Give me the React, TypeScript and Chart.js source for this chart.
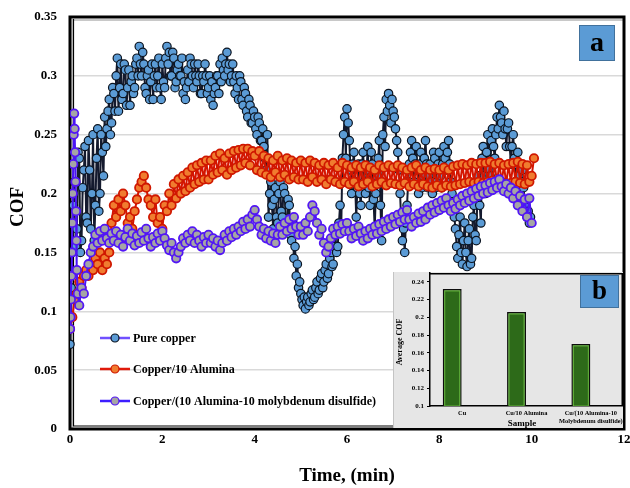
import React, { useEffect, useRef } from 'react';
import { Chart, registerables } from 'chart.js';

Chart.register(...registerables);

// ---------------- data ----------------
const STEP_MIN = 0.05; // sampling step of the COF readings (min)

// Pure copper: readings at 0, 0.05, 0.10 ... min
const COPPER_START = 0;
const COPPER_COF = [
  0.072, 0.15, 0.21, 0.17, 0.23, 0.16, 0.22, 0.18, 0.245, 0.17, 0.25, 0.19, 0.255, 0.2, 0.235, 0.265, 0.255, 0.28, 0.26, 0.285,
  0.3, 0.27, 0.31, 0.285, 0.305, 0.29, 0.275, 0.3, 0.29, 0.315, 0.325, 0.3, 0.31, 0.285, 0.305, 0.295, 0.28, 0.31, 0.3, 0.29,
  0.31, 0.29, 0.325, 0.32, 0.3, 0.315, 0.295, 0.31, 0.3, 0.285, 0.28, 0.305, 0.315, 0.3, 0.31, 0.295, 0.3, 0.285, 0.295, 0.3,
  0.29, 0.28, 0.275, 0.29, 0.3, 0.31, 0.315, 0.3, 0.32, 0.31, 0.3, 0.295, 0.3, 0.28, 0.295, 0.275, 0.285, 0.265, 0.275, 0.26,
  0.265, 0.25, 0.26, 0.245, 0.24, 0.22, 0.18, 0.21, 0.17, 0.205, 0.175, 0.21, 0.18, 0.2, 0.17, 0.19, 0.16, 0.145, 0.13, 0.12,
  0.115, 0.105, 0.102, 0.112, 0.108, 0.118, 0.112, 0.125, 0.118, 0.132, 0.125, 0.14, 0.132, 0.15, 0.14, 0.165, 0.155, 0.19, 0.23, 0.265,
  0.272, 0.245, 0.2, 0.235, 0.18, 0.225, 0.19, 0.235, 0.2, 0.24, 0.19, 0.225, 0.17, 0.215, 0.245, 0.16, 0.265, 0.28, 0.285, 0.26,
  0.27, 0.255, 0.235, 0.2, 0.16, 0.15, 0.19, 0.225, 0.245, 0.21, 0.24, 0.2, 0.235, 0.215, 0.245, 0.205, 0.225, 0.2, 0.23, 0.21,
  0.235, 0.205, 0.24, 0.22, 0.245, 0.21, 0.19, 0.17, 0.145, 0.18, 0.14, 0.175, 0.138, 0.17, 0.145, 0.19, 0.16, 0.215, 0.175, 0.24,
  0.2, 0.25, 0.215, 0.255, 0.23, 0.265, 0.275, 0.26, 0.27, 0.24, 0.26, 0.225, 0.25, 0.21, 0.235, 0.2, 0.22, 0.19, 0.18, 0.175,
];
// Pure copper: in-between readings at 0.025, 0.075, 0.125 ... min
const COPPER_MID_START = 0.025;
const COPPER_MID_COF = [
  0.12, 0.19, 0.155, 0.235, 0.15, 0.205, 0.24, 0.175, 0.22, 0.2, 0.16, 0.23, 0.185, 0.25, 0.215, 0.24, 0.27, 0.25, 0.29, 0.27,
  0.315, 0.29, 0.28, 0.31, 0.275, 0.305, 0.295, 0.285, 0.31, 0.3, 0.31, 0.32, 0.29, 0.3, 0.28, 0.31, 0.3, 0.29, 0.315, 0.28,
  0.295, 0.315, 0.31, 0.3, 0.32, 0.29, 0.305, 0.3, 0.315, 0.295, 0.29, 0.295, 0.31, 0.29, 0.3, 0.31, 0.285, 0.3, 0.31, 0.285,
  0.3, 0.295, 0.285, 0.3, 0.285, 0.295, 0.305, 0.31, 0.305, 0.295, 0.31, 0.285, 0.29, 0.3, 0.28, 0.29, 0.27, 0.28, 0.26, 0.27,
  0.255, 0.265, 0.245, 0.255, 0.23, 0.25, 0.2, 0.19, 0.195, 0.18, 0.2, 0.185, 0.205, 0.175, 0.195, 0.165, 0.175, 0.155, 0.14, 0.125,
  0.11, 0.112, 0.108, 0.105, 0.115, 0.11, 0.12, 0.115, 0.128, 0.12, 0.135, 0.128, 0.145, 0.138, 0.155, 0.15, 0.175, 0.17, 0.25, 0.23,
  0.26, 0.22, 0.225, 0.21, 0.205, 0.2, 0.225, 0.21, 0.22, 0.205, 0.235, 0.195, 0.2, 0.23, 0.19, 0.25, 0.24, 0.27, 0.275, 0.28,
  0.265, 0.245, 0.22, 0.175, 0.17, 0.175, 0.21, 0.235, 0.23, 0.225, 0.22, 0.225, 0.205, 0.23, 0.225, 0.215, 0.21, 0.235, 0.205, 0.225,
  0.215, 0.225, 0.23, 0.235, 0.225, 0.2, 0.18, 0.155, 0.165, 0.15, 0.16, 0.15, 0.16, 0.14, 0.18, 0.165, 0.2, 0.19, 0.23, 0.215,
  0.235, 0.22, 0.245, 0.24, 0.25, 0.255, 0.265, 0.25, 0.255, 0.255, 0.24, 0.24, 0.23, 0.225, 0.215, 0.21, 0.205, 0.195, 0.185, 0.18,
];

const ALUMINA_START = 0;
const ALUMINA_COF = [
  0.085, 0.095, 0.11, 0.115, 0.125, 0.12, 0.13, 0.135, 0.13, 0.14, 0.135, 0.145, 0.14, 0.15, 0.135, 0.145, 0.14, 0.15, 0.175, 0.19,
  0.18, 0.195, 0.185, 0.2, 0.19, 0.175, 0.18, 0.17, 0.185, 0.195, 0.205, 0.21, 0.215, 0.205, 0.195, 0.19, 0.18, 0.195, 0.175, 0.18,
  0.17, 0.19, 0.185, 0.2, 0.19, 0.208, 0.196, 0.212, 0.2, 0.215, 0.202, 0.218, 0.205, 0.222, 0.208, 0.224, 0.21, 0.226, 0.212, 0.228,
  0.212, 0.228, 0.216, 0.232, 0.218, 0.234, 0.22, 0.23, 0.216, 0.234, 0.22, 0.236, 0.222, 0.237, 0.224, 0.238, 0.226, 0.238, 0.224, 0.236,
  0.232, 0.22, 0.236, 0.218, 0.232, 0.216, 0.23, 0.214, 0.228, 0.218, 0.232, 0.214, 0.228, 0.216, 0.23, 0.212, 0.228, 0.214, 0.226, 0.212,
  0.228, 0.212, 0.226, 0.21, 0.228, 0.214, 0.226, 0.21, 0.224, 0.212, 0.226, 0.208, 0.224, 0.212, 0.226, 0.21, 0.222, 0.208, 0.226, 0.21,
  0.224, 0.208, 0.222, 0.21, 0.224, 0.206, 0.222, 0.208, 0.224, 0.21, 0.222, 0.206, 0.22, 0.208, 0.224, 0.21, 0.222, 0.207, 0.224, 0.209,
  0.222, 0.208, 0.224, 0.207, 0.222, 0.209, 0.22, 0.206, 0.222, 0.208, 0.224, 0.206, 0.22, 0.208, 0.222, 0.206, 0.22, 0.205, 0.221, 0.207,
  0.22, 0.205, 0.222, 0.207, 0.22, 0.206, 0.223, 0.207, 0.224, 0.208, 0.225, 0.209, 0.224, 0.21, 0.226, 0.209, 0.225, 0.21, 0.226, 0.209,
  0.226, 0.21, 0.227, 0.211, 0.225, 0.209, 0.226, 0.21, 0.224, 0.208, 0.225, 0.209, 0.226, 0.21, 0.227, 0.209, 0.225, 0.208, 0.224, 0.21,
  0.215, 0.23,
];

// running-in burst of the MoS2 sample (first seconds)
const MOS2_BURST_TIME = [0, 0.01, 0.02, 0.03, 0.04, 0.05, 0.06, 0.07, 0.08, 0.09, 0.1, 0.11, 0.12, 0.13, 0.14, 0.15, 0.17];
const MOS2_BURST_COF = [0.085, 0.095, 0.11, 0.13, 0.15, 0.175, 0.2, 0.225, 0.25, 0.268, 0.255, 0.235, 0.21, 0.185, 0.16, 0.135, 0.115];

const MOS2_START = 0.2;
const MOS2_COF = [
  0.105, 0.12, 0.115, 0.13, 0.14, 0.15, 0.155, 0.165, 0.158, 0.168, 0.16, 0.17, 0.162, 0.158, 0.166, 0.16,
  0.168, 0.158, 0.165, 0.155, 0.163, 0.17, 0.16, 0.166, 0.156, 0.164, 0.158, 0.167, 0.16, 0.17, 0.162, 0.155, 0.163, 0.158, 0.166, 0.16,
  0.168, 0.162, 0.156, 0.152, 0.158, 0.15, 0.145, 0.15, 0.155, 0.162, 0.158, 0.165, 0.16, 0.168, 0.158, 0.165, 0.16, 0.155, 0.163, 0.158,
  0.165, 0.158, 0.162, 0.155, 0.16, 0.152, 0.158, 0.165, 0.16, 0.168, 0.163, 0.17, 0.165, 0.172, 0.168, 0.176, 0.17, 0.178, 0.172, 0.182,
  0.186, 0.178, 0.172, 0.165, 0.17, 0.162, 0.168, 0.16, 0.166, 0.158, 0.165, 0.172, 0.165, 0.175, 0.168, 0.178, 0.17, 0.18, 0.172, 0.165,
  0.172, 0.165, 0.175, 0.168, 0.18, 0.19, 0.185, 0.175, 0.165, 0.17, 0.158, 0.15, 0.155, 0.162, 0.17, 0.165, 0.172, 0.166, 0.174, 0.168,
  0.175, 0.168, 0.162, 0.17, 0.164, 0.172, 0.166, 0.16, 0.168, 0.162, 0.17, 0.165, 0.172, 0.166, 0.174, 0.168, 0.176, 0.17, 0.178, 0.172,
  0.18, 0.174, 0.182, 0.176, 0.184, 0.178, 0.186, 0.178, 0.172, 0.18, 0.175, 0.183, 0.176, 0.185, 0.178, 0.188, 0.182, 0.19, 0.184, 0.192,
  0.186, 0.194, 0.188, 0.196, 0.19, 0.185, 0.192, 0.187, 0.195, 0.19, 0.198, 0.192, 0.2, 0.194, 0.202, 0.196, 0.204, 0.198, 0.206, 0.2,
  0.207, 0.201, 0.209, 0.203, 0.21, 0.205, 0.212, 0.206, 0.202, 0.208, 0.2, 0.205, 0.196, 0.202, 0.19, 0.198, 0.185, 0.195, 0.18, 0.196,
  0.175,
];

const SERIES_NAMES = ['Pure copper', 'Copper/10 Alumina', 'Copper/(10 Alumina-10 molybdenum disulfide)'];
const X_TITLE = 'Time, (min)';
const Y_TITLE = 'COF';

const SAMPLE_LABELS = [['Cu'], ['Cu/10 Alumina'], ['Cu/(10 Alumina-10', 'Molybdenum disulfide)']];
const AVERAGE_COF = [0.232, 0.206, 0.17];
const INSET_X_TITLE = 'Sample';
const INSET_Y_TITLE = 'Average COF';

// ---------------- styles ----------------
const SERIF = "'Liberation Serif', 'Times New Roman', serif";

const STYLES = [
  { legendLine: '#7050ff', line: '#141a2e', lw: 2, fill: '#5b9bd5', stroke: '#0b1420', bw: 1.2, r: 4.2 },
  { legendLine: '#e01a0a', line: '#d41500', lw: 2, fill: '#f07c2f', stroke: '#d01800', bw: 1.8, r: 4.2 },
  { legendLine: '#3d1eff', line: '#4a14f5', lw: 2, fill: '#a5a5a5', stroke: '#5216f5', bw: 1.8, r: 4.2 },
];

const onGrid = (start: number, values: number[]) =>
  values.map((v, i) => ({ x: +(start + i * STEP_MIN).toFixed(3), y: v }));

const byTime = (a: { x: number }, b: { x: number }) => a.x - b.x;

const fmt = (v: number) => String(+Number(v).toFixed(2));

function drawLabelBox(ctx: CanvasRenderingContext2D, x: number, y: number, w: number, h: number, text: string, size: number) {
  ctx.save();
  ctx.fillStyle = '#5b9bd5';
  ctx.fillRect(x, y, w, h);
  ctx.strokeStyle = '#41719c';
  ctx.lineWidth = 1;
  ctx.strokeRect(x + 0.5, y + 0.5, w - 1, h - 1);
  ctx.fillStyle = '#000';
  ctx.font = `bold ${size}px ${SERIF}`;
  ctx.textAlign = 'center';
  ctx.textBaseline = 'middle';
  ctx.fillText(text, x + w / 2, y + h / 2 + 1);
  ctx.restore();
}

const mainFrame = {
  id: 'mainFrame',
  beforeDatasetsDraw(chart: any) {
    const { ctx, chartArea: a } = chart;
    ctx.save();
    ctx.strokeStyle = '#c8c8c8';
    ctx.lineWidth = 2;
    ctx.beginPath();
    ctx.moveTo(a.left + 2.5, a.bottom);
    ctx.lineTo(a.left + 2.5, a.top + 3);
    ctx.lineTo(a.right, a.top + 3);
    ctx.stroke();
    ctx.strokeStyle = '#000';
    ctx.lineWidth = 3;
    ctx.strokeRect(a.left, a.top, a.right - a.left, a.bottom - a.top);
    ctx.lineWidth = 1.2;
    ctx.beginPath();
    ctx.moveTo(a.left + 3.5, a.top + 2);
    ctx.lineTo(a.left + 3.5, a.bottom - 3);
    ctx.lineTo(a.right - 2, a.bottom - 3);
    ctx.stroke();
    ctx.restore();
  },
  afterDraw(chart: any) {
    const { ctx, chartArea: a } = chart;
    ctx.save();
    ctx.fillStyle = '#000';
    ctx.font = `bold 19px ${SERIF}`;
    ctx.textAlign = 'center';
    ctx.textBaseline = 'middle';
    ctx.fillText(X_TITLE, (a.left + a.right) / 2, 476);
    ctx.translate(18, 207);
    ctx.rotate(-Math.PI / 2);
    ctx.fillText(Y_TITLE, 0, 0);
    ctx.restore();

    ctx.save();
    const rows = [338, 369, 401];
    SERIES_NAMES.forEach((name, i) => {
      const y = rows[i];
      const s = STYLES[i];
      ctx.strokeStyle = s.legendLine;
      ctx.lineWidth = 2.5;
      ctx.beginPath();
      ctx.moveTo(100, y);
      ctx.lineTo(130, y);
      ctx.stroke();
      ctx.beginPath();
      ctx.arc(115, y, 4, 0, Math.PI * 2);
      ctx.fillStyle = s.fill;
      ctx.fill();
      ctx.lineWidth = 1.2;
      ctx.strokeStyle = s.stroke;
      ctx.stroke();
      ctx.fillStyle = '#000';
      ctx.font = `bold 12px ${SERIF}`;
      ctx.textAlign = 'left';
      ctx.textBaseline = 'middle';
      ctx.fillText(name, 133, y + 1);
    });
    ctx.restore();

    drawLabelBox(ctx, 579, 25, 36, 36, 'a', 28);
  },
};

const insetDecor = {
  id: 'insetDecor',
  afterDatasetsDraw(chart: any) {
    const { ctx, chartArea: a } = chart;
    ctx.save();
    ctx.beginPath();
    ctx.rect(a.left, a.top, a.right - a.left, a.bottom - a.top);
    ctx.clip();
    const meta = chart.getDatasetMeta(0);
    ctx.strokeStyle = '#62b23a';
    ctx.lineWidth = 1;
    meta.data.forEach((bar: any) => {
      const { x, y, width } = bar.getProps(['x', 'y', 'width'], true);
      ctx.strokeRect(x - width / 2 + 2, y + 2, width - 4, a.bottom - y - 2);
    });
    ctx.restore();
    ctx.save();
    ctx.strokeStyle = '#000';
    ctx.lineWidth = 1.5;
    ctx.beginPath();
    ctx.moveTo(a.left, a.top + 0.75);
    ctx.lineTo(a.right - 0.75, a.top + 0.75);
    ctx.lineTo(a.right - 0.75, a.bottom);
    ctx.stroke();
    ctx.restore();
  },
  afterDraw(chart: any) {
    const { ctx } = chart;
    ctx.save();
    ctx.fillStyle = '#000';
    ctx.textAlign = 'center';
    ctx.textBaseline = 'middle';
    ctx.font = `bold 9px ${SERIF}`;
    ctx.fillText(INSET_X_TITLE, 129, 152);
    ctx.font = `bold 8px ${SERIF}`;
    ctx.translate(7, 70);
    ctx.rotate(-Math.PI / 2);
    ctx.fillText(INSET_Y_TITLE, 0, 0);
    ctx.restore();
    drawLabelBox(ctx, 187, 3, 39, 33, 'b', 27);
  },
};

export default function App() {
  const mainRef = useRef<HTMLCanvasElement>(null);
  const insetRef = useRef<HTMLCanvasElement>(null);

  useEffect(() => {
    const tickFont = { family: SERIF, size: 13, weight: 'bold' as const };
    const series = [
      [...onGrid(COPPER_START, COPPER_COF), ...onGrid(COPPER_MID_START, COPPER_MID_COF)].sort(byTime),
      onGrid(ALUMINA_START, ALUMINA_COF),
      [...MOS2_BURST_TIME.map((t, i) => ({ x: t, y: MOS2_BURST_COF[i] })), ...onGrid(MOS2_START, MOS2_COF)],
    ];
    const main = new Chart(mainRef.current!, {
      type: 'line',
      data: {
        datasets: series.map((data, i) => ({
          label: SERIES_NAMES[i],
          data,
          order: 3 - i,
          borderColor: STYLES[i].line,
          borderWidth: STYLES[i].lw,
          borderJoinStyle: 'round',
          borderCapStyle: 'round',
          pointRadius: STYLES[i].r,
          pointBackgroundColor: STYLES[i].fill,
          pointBorderColor: STYLES[i].stroke,
          pointBorderWidth: STYLES[i].bw,
          tension: 0,
          fill: false,
        })),
      },
      options: {
        responsive: false,
        animation: false,
        events: [],
        layout: { padding: { top: 17, right: 5, left: 0, bottom: 0 } },
        plugins: { legend: { display: false }, tooltip: { enabled: false } },
        scales: {
          x: {
            type: 'linear',
            min: 0,
            max: 12,
            ticks: { stepSize: 2, font: tickFont, color: '#000', padding: 3, maxRotation: 0 },
            grid: { display: false, drawTicks: false },
            border: { display: false },
            afterFit: (s: any) => { s.height = 59; s.paddingLeft = 0; s.paddingRight = 0; },
          },
          y: {
            type: 'linear',
            min: 0,
            max: 0.35,
            ticks: { stepSize: 0.05, font: tickFont, color: '#000', padding: 13, callback: (v: any) => fmt(v) },
            grid: { color: '#d9d9d9', lineWidth: 1.5, drawTicks: false },
            border: { display: false },
            afterFit: (s: any) => { s.width = 70; s.paddingTop = 0; s.paddingBottom = 0; },
          },
        },
      },
      plugins: [mainFrame],
    } as any);

    const smallFont = { family: SERIF, size: 7, weight: 'bold' as const };
    const labelFont = { family: SERIF, size: 6.4, weight: 'bold' as const };
    const inset = new Chart(insetRef.current!, {
      type: 'bar',
      data: {
        labels: SAMPLE_LABELS,
        datasets: [
          { label: INSET_Y_TITLE, data: AVERAGE_COF, backgroundColor: '#2d6a19', borderColor: '#0d0d0d', borderWidth: 1.5, borderSkipped: false },
          { label: '', data: AVERAGE_COF.map(() => null) },
        ],
      },
      options: {
        responsive: false,
        animation: false,
        events: [],
        layout: { padding: { top: 1, right: 0, left: 0, bottom: 0 } },
        plugins: { legend: { display: false }, tooltip: { enabled: false } },
        datasets: { bar: { categoryPercentage: 0.62, barPercentage: 0.95 } },
        scales: {
          x: {
            ticks: { font: labelFont, color: '#000', padding: 4, maxRotation: 0, autoSkip: false },
            grid: { display: false, drawTicks: false },
            border: { display: true, color: '#000', width: 1.5 },
            afterFit: (s: any) => { s.height = 22; s.paddingLeft = 0; s.paddingRight = 0; },
          },
          y: {
            min: 0.1,
            max: 0.25,
            ticks: { stepSize: 0.02, font: smallFont, color: '#000', padding: 3, callback: (v: any) => fmt(v) },
            afterBuildTicks: (s: any) => { s.ticks = s.ticks.filter((t: any) => t.value < 0.245); },
            grid: { display: true, drawOnChartArea: false, drawTicks: true, tickLength: 3, color: '#000', lineWidth: 1 },
            border: { display: true, color: '#000', width: 1.5 },
            afterFit: (s: any) => { s.width = 37; s.paddingTop = 0; s.paddingBottom = 0; },
          },
        },
      },
      plugins: [insetDecor],
    } as any);

    return () => {
      main.destroy();
      inset.destroy();
    };
  }, []);

  return (
    <div style={{ position: 'absolute', left: 0, top: 0, width: 630, height: 488, background: '#fff' }}>
      <canvas ref={mainRef} width={630} height={488} style={{ position: 'absolute', left: 0, top: 0, width: 630, height: 488 }} />
      <div
        style={{
          position: 'absolute',
          left: 393,
          top: 272,
          width: 230,
          height: 156,
          background: '#e6e6e6',
          boxShadow: 'inset 1px 0 0 #c4c4c4',
        }}
      >
        <canvas ref={insetRef} width={230} height={156} style={{ position: 'absolute', left: 0, top: 0, width: 230, height: 156 }} />
      </div>
    </div>
  );
}
